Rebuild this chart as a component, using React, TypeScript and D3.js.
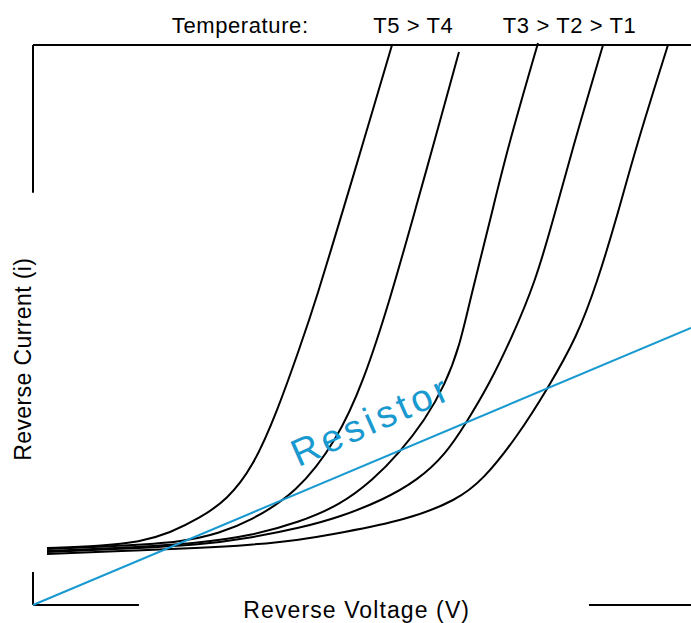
import * as d3 from "d3";
import { useEffect, useRef } from "react";

// reverse voltage (0-100) vs reverse current (0-100)
const curveT5: [number, number][] = [
  [2.13, 10.18], [10.18, 10.54], [16.26, 11.25], [20.82, 12.86], [25.38, 15.54],
  [29.48, 18.75], [33.44, 24.64], [37.08, 34.46], [40.58, 46.07], [43.01, 54.46],
  [47.57, 72.32], [49.85, 81.25], [54.56, 100],
];
const curveT4: [number, number][] = [
  [2.13, 10.0], [13.22, 10.54], [22.8, 11.25], [28.42, 12.86], [32.98, 15.0],
  [40.12, 20.0], [46.2, 29.46], [50.15, 39.64], [54.26, 54.46], [58.51, 72.32],
  [60.64, 81.25], [64.74, 98.75],
];
const curveT3: [number, number][] = [
  [2.13, 9.64], [13.22, 10.18], [25.38, 11.07], [32.98, 12.32], [40.58, 14.82],
  [46.66, 17.86], [51.67, 22.32], [55.78, 27.32], [59.57, 33.04], [62.61, 39.29],
  [64.89, 46.43], [66.41, 54.46], [69.6, 69.29], [72.04, 81.25], [76.75, 100.36],
];
const curveT2: [number, number][] = [
  [2.13, 9.46], [13.22, 10.0], [25.38, 10.71], [32.98, 11.96], [40.58, 13.75],
  [46.66, 15.71], [53.19, 18.75], [58.51, 22.32], [62.61, 26.79], [65.65, 32.14],
  [69.45, 39.64], [72.8, 47.86], [76.29, 57.5], [79.18, 69.29], [81.92, 81.25], [86.63, 100],
];
const curveT1: [number, number][] = [
  [2.13, 9.11], [13.22, 9.64], [25.38, 10.18], [32.98, 10.71], [40.58, 11.61],
  [46.66, 12.86], [56.84, 15.18], [64.44, 18.75], [68.39, 22.32], [73.56, 30.0],
  [78.27, 38.75], [82.67, 47.86], [85.71, 57.5], [88.75, 69.29], [91.49, 81.25], [96.5, 100],
];
const resistor: [number, number][] = [[0, 0], [100, 49.5]];

const diodeCurves = [curveT5, curveT4, curveT3, curveT2, curveT1];
const tempLabels = ["Temperature:", "T5 > T4", "T3 > T2 > T1"];
const tempLabelAt = [21.1, 51.7, 71.4];

// frame pieces, left open where the axis titles sit
const frameSegments: [number, number, number, number][] = [
  [0, 100, 100, 100],
  [0, 100, 0, 73.6],
  [0, 5.9, 0, 0],
  [0, 0, 16.1, 0],
  [84.5, 0, 100, 0],
];

const W = 691;
const H = 623;

const draw = (el: SVGSVGElement) => {
  const svg = d3.select(el);
  svg.selectAll("*").remove();

  const x = d3.scaleLinear().domain([0, 100]).range([33, 691]);
  const y = d3.scaleLinear().domain([0, 100]).range([605, 45]);

  svg.append("g")
    .selectAll("line")
    .data(frameSegments)
    .join("line")
    .attr("x1", (d) => x(d[0]))
    .attr("y1", (d) => y(d[1]))
    .attr("x2", (d) => x(d[2]))
    .attr("y2", (d) => y(d[3]))
    .attr("stroke", "#000")
    .attr("stroke-width", 2);

  const line = d3
    .line<[number, number]>()
    .x((d) => x(d[0]))
    .y((d) => y(d[1]))
    .curve(d3.curveBasis);

  svg.append("g")
    .selectAll("path")
    .data(diodeCurves)
    .join("path")
    .attr("d", line)
    .attr("fill", "none")
    .attr("stroke", "#000")
    .attr("stroke-width", 2);

  svg.append("path")
    .attr("d", d3.line<[number, number]>().x((d) => x(d[0])).y((d) => y(d[1]))(resistor))
    .attr("fill", "none")
    .attr("stroke", "#1899d0")
    .attr("stroke-width", 2);

  svg.append("text")
    .attr("transform", `translate(${x(40.3)},${y(24.6)}) rotate(-24)`)
    .attr("fill", "#1899d0")
    .attr("font-size", 38)
    .attr("letter-spacing", 4)
    .text("Resistor");

  svg.append("g")
    .selectAll("text")
    .data(tempLabels)
    .join("text")
    .attr("x", (d, i) => x(tempLabelAt[i]))
    .attr("y", 33)
    .attr("font-size", 22)
    .attr("letter-spacing", 0.6)
    .text((d) => d);

  svg.append("text")
    .attr("x", x(49.2))
    .attr("y", 618)
    .attr("text-anchor", "middle")
    .attr("font-size", 23)
    .attr("letter-spacing", 1.1)
    .text("Reverse Voltage (V)");

  svg.append("text")
    .attr("transform", `translate(31,${y(43.9)}) rotate(-90)`)
    .attr("text-anchor", "middle")
    .attr("font-size", 23)
    .attr("letter-spacing", 0.4)
    .text("Reverse Current (i)");
};

export default function App() {
  const svgRef = useRef<SVGSVGElement>(null);
  useEffect(() => {
    if (svgRef.current) draw(svgRef.current);
  }, []);
  return (
    <svg
      ref={svgRef}
      width={W}
      height={H}
      style={{
        position: "absolute",
        left: 0,
        top: 0,
        background: "#fff",
        fontFamily: "'Liberation Sans', Arial, sans-serif",
      }}
    ></svg>
  );
}
